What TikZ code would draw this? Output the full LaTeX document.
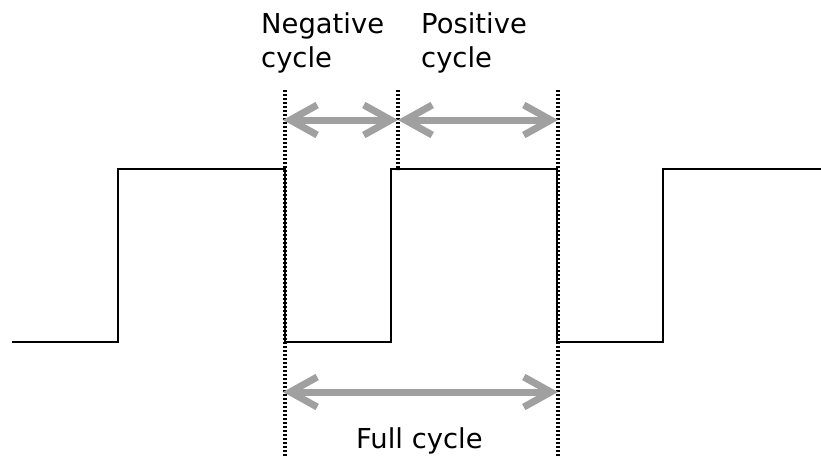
\documentclass[tikz,border=0pt]{standalone}
\usepackage{fontspec}
\setmainfont{DejaVu Sans}
\usetikzlibrary{arrows.meta}
\definecolor{arrowgray}{HTML}{A0A0A0}
\tikzset{
  wave/.style={line width=2pt, black, line join=miter},
  guide/.style={line width=3.2pt, black, dash pattern=on 2pt off 2pt},
  span/.style={line width=7pt, arrowgray, {Straight Barb[length=27pt,width=30pt]}-{Straight Barb[length=27pt,width=30pt]}},
  lbl/.style={font=\fontsize{27.4}{34}\selectfont, inner sep=0pt, align=left}
}
\begin{document}
\begin{tikzpicture}[x=1pt,y=-1pt]
\useasboundingbox (0,0) rectangle (821,456);
% boundaries
\coordinate (a0) at (285,90);
\coordinate (a1) at (285,456);
\coordinate (b0) at (398,90);
\coordinate (b1) at (398,170);
\coordinate (c0) at (558,90);
\coordinate (c1) at (558,456);
% waveform
\draw[wave] (12,342) -- (118,342) -- (118,169) -- (285,169) -- (285,342) -- (391,342) -- (391,169) -- (557,169) -- (557,342) -- (663,342) -- (663,169) -- (821,169);
% dotted guides
\draw[guide] (a0) -- (a1);
\draw[guide] (b0) -- (b1);
\draw[guide] (c0) -- (c1);
% arrows
\coordinate (t1) at (283,120);
\coordinate (t2) at (398,120);
\coordinate (t3) at (558,120);
\coordinate (f1) at (283,392);
\coordinate (f2) at (558,392);
\draw[span] (t1) -- (t2);
\draw[span] (t2) -- (t3);
\draw[span] (f1) -- (f2);
% labels
\node[lbl, anchor=base west] (neg) at (261,67) {Negative\\cycle};
\node[lbl, anchor=base west] (pos) at (421,67) {Positive\\cycle};
\node[lbl, anchor=base west] (full) at (356,448) {Full cycle};
\end{tikzpicture}
\end{document}
